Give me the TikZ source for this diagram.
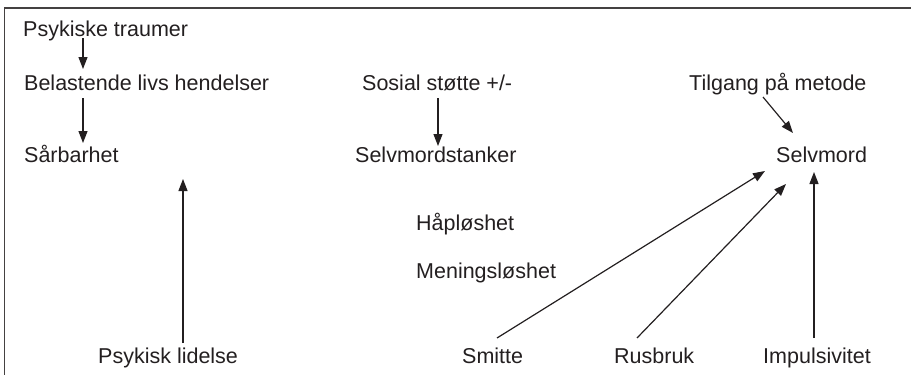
\documentclass[tikz,border=0pt]{standalone}
\usepackage{fontspec}
\setmainfont{Liberation Sans}
\usetikzlibrary{arrows.meta,calc}
\definecolor{ink}{HTML}{231F20}
\begin{document}
\begin{tikzpicture}[x=1pt,y=-1pt,
  lbl/.style={anchor=base west,inner sep=0pt,text=ink,font=\fontsize{21.5}{25}\selectfont},
  arr/.style={draw=ink,line width=1.2pt,-{Triangle[length=12pt,width=9pt]}},
  frameline/.style={draw=ink!85,line width=1.6pt}]
\useasboundingbox (0,0) rectangle (911,375);

% open frame: left side and top
\draw[frameline] (4.5,376) -- (4.5,8) -- (912,8);

% factors
\node[lbl] (traumer)  at (23,36)   {Psykiske traumer};
\node[lbl] (belast)   at (24,90)   {Belastende livs hendelser};
\node[lbl] (sarb)     at (24,162)  {Sårbarhet};
\node[lbl] (sosial)   at (362,90)  {Sosial støtte +/-};
\node[lbl] (tanker)   at (355,162) {Selvmordstanker};
\node[lbl] (tilgang)  at (689,90)  {Tilgang på metode};
\node[lbl] (selvmord) at (776,162) {Selvmord};
\node[lbl] (hap)      at (416,230) {Håpløshet};
\node[lbl] (mening)   at (416,278) {Meningsløshet};
\node[lbl] (lidelse)  at (98,363)  {Psykisk lidelse};
\node[lbl] (smitte)   at (462,363) {Smitte};
\node[lbl] (rusbruk)  at (614,363) {Rusbruk};
\node[lbl] (impuls)   at (763,363) {Impulsivitet};
\coordinate (lidtip) at (183,179);

% influences
\draw[arr] ($(traumer.base west)+(60,2)$) -- ($(belast.base west)+(59,-21)$);
\draw[arr] ($(belast.base west)+(59,8)$) -- ($(sarb.base west)+(59,-19)$);
\draw[arr] ($(sosial.base west)+(76,8)$) -- ($(tanker.base west)+(83,-16)$);
\draw[arr] ($(tilgang.base west)+(74,7)$) -- ($(selvmord.base west)+(17,-29)$);
\draw[arr] ($(smitte.base west)+(35,-25)$) -- ($(selvmord.base west)+(-11,9)$);
\draw[arr] ($(rusbruk.base west)+(23,-25)$) -- ($(selvmord.base west)+(10,22)$);
\draw[arr] ($(impuls.base west)+(51,-25)$) -- ($(selvmord.base west)+(38,10)$);
\draw[arr] ($(lidelse.base west)+(85,-20)$) -- (lidtip);
\end{tikzpicture}
\end{document}
